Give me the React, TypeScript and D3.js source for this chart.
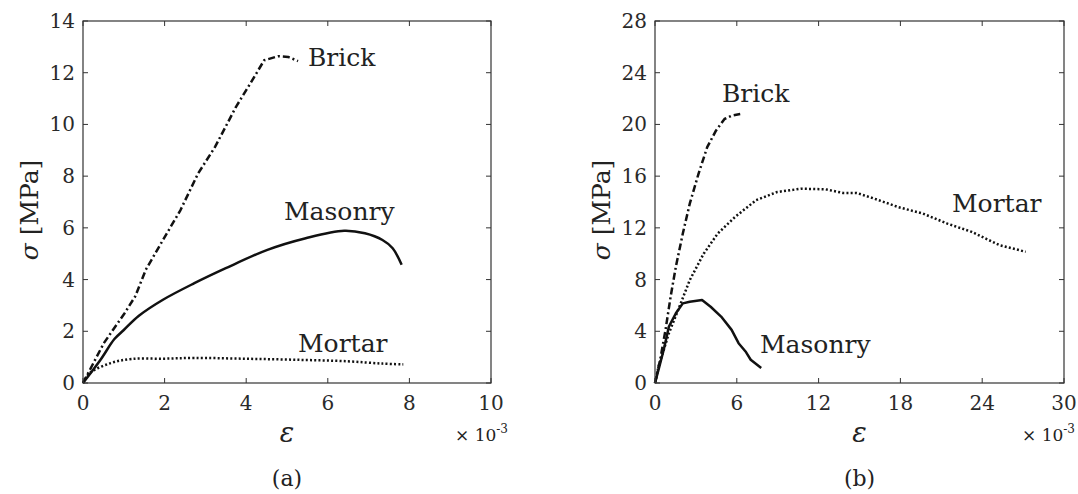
import React from "react";
import * as d3 from "d3";

// ---------- DATA ----------
const xTicksA = [0, 2, 4, 6, 8, 10];
const yTicksA = [0, 2, 4, 6, 8, 10, 12, 14];
const xTicksB = [0, 6, 12, 18, 24, 30];
const yTicksB = [0, 4, 8, 12, 16, 20, 24, 28];

// Panel (a) – strain x10^-3, stress MPa
const brickA: [number, number][] = [
  [0, 0], [0.51, 1.54], [1.02, 2.7], [1.28, 3.35], [1.54, 4.38], [1.96, 5.53],
  [2.39, 6.69], [2.82, 8.1], [3.24, 9.14], [3.75, 10.68], [4.1, 11.58],
  [4.44, 12.48], [4.78, 12.64], [5.03, 12.61], [5.27, 12.45],
];
const masonryA: [number, number][] = [
  [0, 0], [0.43, 0.9], [0.77, 1.7], [1.0, 2.05], [1.37, 2.6], [1.96, 3.22],
  [2.73, 3.86], [3.5, 4.44], [4.52, 5.15], [5.46, 5.6], [6.4, 5.89],
  [6.91, 5.79], [7.34, 5.53], [7.59, 5.21], [7.81, 4.57],
];
const mortarA: [number, number][] = [
  [0, 0], [0.17, 0.39], [0.68, 0.77], [1.19, 0.93], [1.96, 0.94], [2.73, 0.97],
  [3.92, 0.94], [5.2, 0.9], [6.48, 0.84], [7.34, 0.75], [7.85, 0.72],
];

// Panel (b)
const brickB: [number, number][] = [
  [0, 0], [0.38, 1.8], [0.77, 4.1], [1.15, 6.7], [1.53, 9.0], [2.04, 11.56],
  [2.55, 13.87], [3.19, 16.18], [3.83, 18.24], [4.47, 19.52], [5.1, 20.42],
  [5.62, 20.68], [6.25, 20.8],
];
const mortarB: [number, number][] = [
  [0, 0], [0.26, 1.28], [1.02, 3.85], [1.79, 5.9], [2.55, 7.96], [3.57, 10.0],
  [4.6, 11.56], [5.87, 12.84], [7.4, 14.13], [8.94, 14.77], [10.72, 15.03],
  [12.51, 14.98], [13.79, 14.7], [14.8, 14.7], [16.08, 14.26], [17.87, 13.6],
  [19.66, 13.1], [21.44, 12.33], [23.23, 11.69], [25.27, 10.66], [27.19, 10.15],
];
const masonryB: [number, number][] = [
  [0, 0], [0.26, 1.03], [0.64, 2.57], [1.02, 4.37], [1.53, 5.39], [2.04, 6.16],
  [2.55, 6.29], [3.45, 6.42], [4.08, 5.9], [4.85, 5.14], [5.62, 4.11],
  [6.13, 3.08], [6.64, 2.44], [7.02, 1.8], [7.79, 1.16],
];

const FONT = "DejaVu Serif, Liberation Serif, serif";
const AXIS = "#333";

type Series = { data: [number, number][]; dash: string; smooth: boolean };
type Label = { text: string; x: number; y: number };

function Panel(props: {
  left: number; right: number; top: number; bottom: number;
  xTicks: number[]; yTicks: number[];
  series: Series[]; labels: Label[]; tag: string; expRight: number;
}) {
  const { left, right, top, bottom, xTicks, yTicks, series, labels, tag, expRight } = props;
  const x = d3.scaleLinear().domain([xTicks[0], xTicks[xTicks.length - 1]]).range([left, right]);
  const y = d3.scaleLinear().domain([yTicks[0], yTicks[yTicks.length - 1]]).range([bottom, top]);
  const tl = 5;
  const midX = (left + right) / 2;
  return (
    <g>
      {series.map((s, i) => {
        const line = d3.line<[number, number]>().x((d) => x(d[0])).y((d) => y(d[1]))
          .curve(s.smooth ? d3.curveCatmullRom.alpha(0.5) : d3.curveLinear);
        return (
          <path key={i} d={line(s.data) || ""} fill="none" stroke="#111" strokeWidth={2.5}
            strokeDasharray={s.dash} strokeLinejoin="round" />
        );
      })}
      <rect x={left} y={top} width={right - left} height={bottom - top} fill="none" stroke={AXIS} strokeWidth={1.2} />
      {xTicks.map((t) => (
        <g key={"x" + t}>
          <line x1={x(t)} x2={x(t)} y1={bottom} y2={bottom - tl} stroke={AXIS} strokeWidth={1} />
          <line x1={x(t)} x2={x(t)} y1={top} y2={top + tl} stroke={AXIS} strokeWidth={1} />
          <text x={x(t)} y={bottom + 27} textAnchor="middle" fontSize={20} fontFamily={FONT} fill="#2a2a2a">{t}</text>
        </g>
      ))}
      {yTicks.map((t) => (
        <g key={"y" + t}>
          <line x1={left} x2={left + tl} y1={y(t)} y2={y(t)} stroke={AXIS} strokeWidth={1} />
          <line x1={right} x2={right - tl} y1={y(t)} y2={y(t)} stroke={AXIS} strokeWidth={1} />
          <text x={left - 8} y={y(t) + 7} textAnchor="end" fontSize={20} fontFamily={FONT} fill="#2a2a2a">{t}</text>
        </g>
      ))}
      {labels.map((l) => (
        <text key={l.text} x={l.x} y={l.y} fontSize={25} fontFamily={FONT} fill="#222">{l.text}</text>
      ))}
      <text transform={`translate(${left - 45},${(top + bottom) / 2 + 8}) rotate(-90)`} textAnchor="middle"
        fontSize={25} fontFamily={FONT} fill="#222">
        <tspan fontStyle="italic">σ</tspan> [MPa]
      </text>
      <text x={midX} y={442} textAnchor="middle" fontSize={27} fontStyle="italic" fontFamily={FONT} fill="#222">ε</text>
      <text x={expRight} y={441} textAnchor="end" fontSize={17} fontFamily={FONT} fill="#222">
        × 10<tspan dy={-8} fontSize={12}>-3</tspan>
      </text>
      <text x={midX} y={486} textAnchor="middle" fontSize={22} fontFamily={FONT} fill="#222">{tag}</text>
    </g>
  );
}

export default function App() {
  const dashBrick = "7,3,2,3";
  const dotMortar = "2,2.2";
  return (
    <svg width={1078} height={494} style={{ position: "absolute", left: 0, top: 0, background: "#fff" }}>
      <rect width={1078} height={494} fill="#fff" />
      <Panel left={83} right={491} top={21} bottom={383} xTicks={xTicksA} yTicks={yTicksA} tag="(a)" expRight={508}
        series={[
          { data: brickA, dash: dashBrick, smooth: false },
          { data: masonryA, dash: "", smooth: true },
          { data: mortarA, dash: dotMortar, smooth: true },
        ]}
        labels={[
          { text: "Brick", x: 308, y: 66 },
          { text: "Masonry", x: 284, y: 220 },
          { text: "Mortar", x: 298, y: 352 },
        ]}
      />
      <Panel left={655} right={1064} top={21} bottom={383} xTicks={xTicksB} yTicks={yTicksB} tag="(b)" expRight={1075}
        series={[
          { data: brickB, dash: dashBrick, smooth: false },
          { data: mortarB, dash: dotMortar, smooth: false },
          { data: masonryB, dash: "", smooth: false },
        ]}
        labels={[
          { text: "Brick", x: 722, y: 102 },
          { text: "Mortar", x: 952, y: 212 },
          { text: "Masonry", x: 760, y: 353 },
        ]}
      />
    </svg>
  );
}
